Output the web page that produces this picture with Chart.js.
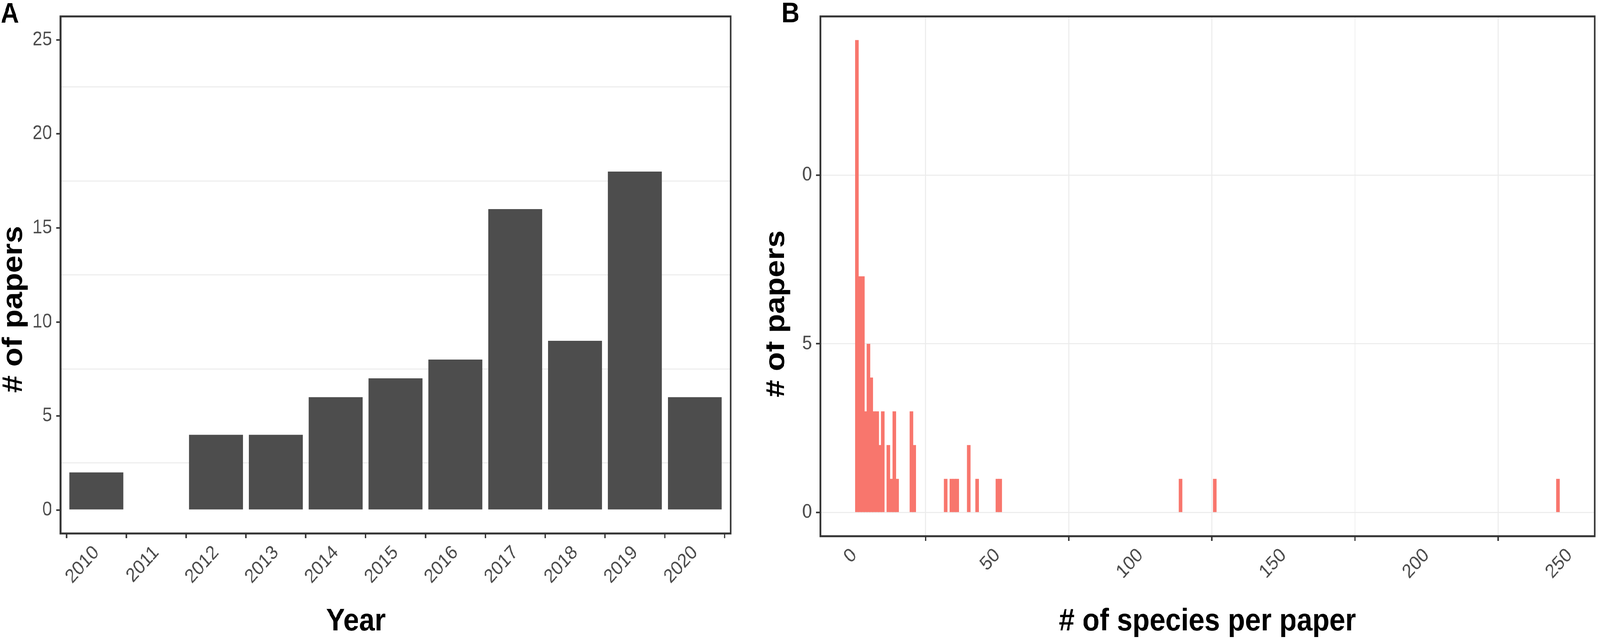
<!DOCTYPE html>
<html lang="en">
<head>
    <meta charset="UTF-8">
    <title>Papers per year / species per paper</title>
    <script src="https://cdn.jsdelivr.net/npm/chart.js"></script>
    <style>
        html, body {
            margin: 0;
            padding: 0;
            background: #ffffff;
            overflow: hidden;
        }
        #stage {
            position: absolute;
            left: 0;
            top: 0;
            width: 4550px;
            height: 1635px;
            transform-origin: 0 0;
        }
        canvas {
            position: absolute;
            top: 0;
        }
        #panelA { left: 0; }
        #panelB { left: 2180px; }
    </style>
</head>
<body>
    <div id="stage">
        <canvas id="panelA" width="2180" height="1635"></canvas>
        <canvas id="panelB" width="2370" height="1635"></canvas>
    </div>
    <script>
        // Panel A: number of papers per year
        const years = [2010, 2011, 2012, 2013, 2014, 2015, 2016, 2017, 2018, 2019, 2020];
        const papersPerYear = [2, 0, 4, 4, 6, 7, 8, 16, 9, 18, 6];
        const yTicksA = [0, 5, 10, 15, 20, 25];
        const yMinorA = [2.5, 7.5, 12.5, 17.5, 22.5];

        // Panel B: histogram of species per paper (bin width 1)
        const speciesPerPaper = [1, 2, 3, 4, 5, 6, 7, 8, 9, 10, 12, 13, 14, 15, 20, 21, 32, 34, 35, 36, 40, 43, 50, 51, 114, 126, 246];
        const papersPerBin = [14, 7, 7, 3, 5, 4, 3, 3, 2, 3, 2, 1, 3, 1, 3, 2, 1, 1, 1, 1, 2, 1, 1, 1, 1, 1, 1];
        const xTicksB = [0, 50, 100, 150, 200, 250];
        const yTicksB = [0, 5, 10];
        const yTickLabelsB = ['0', '5', '0']; // the "1" of 10 is cut off in the source figure

        // the window can be narrower than 4550px, so stretch the layout to fill it
        const sx = window.innerWidth / 4550;
        const sy = window.innerHeight / 1635;
        document.getElementById('stage').style.transform = 'scale(' + sx + ',' + sy + ')';

        const FONT = '"Liberation Sans", Arial, sans-serif';
        const tickFont = { family: FONT, size: 50 };
        const gridGrey = '#EBEBEB';
        const frameGrey = '#333333';

        // frame, axis titles and panel letter
        const panelText = {
            id: 'panelText',
            afterDraw(chart, args, o) {
                const ctx = chart.ctx;
                const a = chart.chartArea;
                ctx.save();
                ctx.strokeStyle = frameGrey;
                ctx.lineWidth = 5;
                ctx.strokeRect(a.left, a.top, a.right - a.left, a.bottom - a.top);

                ctx.fillStyle = '#000000';
                ctx.font = 'bold 80px ' + FONT;
                ctx.textAlign = 'center';
                ctx.textBaseline = 'alphabetic';
                ctx.fillText(o.xTitle, (a.left + a.right) / 2 + o.xShift, o.xBaseline);

                ctx.save();
                ctx.translate(o.yBaseline, (a.top + a.bottom) / 2 + o.yShift);
                ctx.rotate(-Math.PI / 2);
                ctx.fillText(o.yTitle, 0, 0);
                ctx.restore();

                ctx.font = 'bold 72px ' + FONT;
                ctx.textAlign = 'left';
                ctx.fillText(o.letter, o.letterX, o.letterY);
                ctx.restore();
            }
        };

        const setTicks = list => scale => { scale.ticks = list.map(v => ({ value: v })); };

        new Chart(document.getElementById('panelA'), {
            type: 'bar',
            data: {
                datasets: [{
                    data: years.map((y, i) => ({ x: y, y: papersPerYear[i] })),
                    backgroundColor: '#4D4D4D',
                    categoryPercentage: 0.9,
                    barPercentage: 1
                }]
            },
            options: {
                responsive: false,
                animation: false,
                devicePixelRatio: 1,
                layout: { padding: { left: 0, top: 14, right: 102, bottom: 0 } },
                plugins: {
                    legend: { display: false },
                    tooltip: { enabled: false },
                    panelText: {
                        letter: 'A', letterX: 2, letterY: 58,
                        xTitle: 'Year', xShift: -113, xBaseline: 1613,
                        yTitle: '# of papers', yBaseline: 62, yShift: 88
                    }
                },
                scales: {
                    x: {
                        type: 'linear',
                        min: 2009.4,
                        max: 2020.6,
                        bounds: 'data',
                        offset: false,
                        afterBuildTicks: setTicks(years),
                        afterFit: s => { s.height = 270; },
                        border: { display: false },
                        grid: { drawOnChartArea: false, tickLength: 12, tickWidth: 4, tickColor: frameGrey },
                        ticks: {
                            autoSkip: false,
                            minRotation: 45,
                            maxRotation: 45,
                            padding: 8,
                            color: '#4D4D4D',
                            font: tickFont,
                            callback: v => String(v)
                        }
                    },
                    y: {
                        min: -1.25,
                        max: 26.25,
                        bounds: 'data',
                        afterBuildTicks: setTicks(yTicksA.concat(yMinorA).sort((p, q) => p - q)),
                        afterFit: s => { s.width = 172; },
                        border: { display: false },
                        grid: {
                            lineWidth: 2.5,
                            color: c => yTicksA.includes(c.tick.value) ? 'rgba(0,0,0,0)' : gridGrey,
                            tickLength: 12,
                            tickWidth: 4,
                            tickColor: c => yTicksA.includes(c.tick.value) ? frameGrey : 'rgba(0,0,0,0)'
                        },
                        ticks: {
                            padding: 12,
                            color: '#4D4D4D',
                            font: tickFont,
                            callback: v => yTicksA.includes(v) ? String(v) : ''
                        }
                    }
                }
            },
            plugins: [panelText]
        });

        new Chart(document.getElementById('panelB'), {
            type: 'bar',
            data: {
                datasets: [{
                    data: speciesPerPaper.map((s, i) => ({ x: s, y: papersPerBin[i] })),
                    backgroundColor: '#F8766D',
                    categoryPercentage: 1,
                    barPercentage: 1.25
                }]
            },
            options: {
                responsive: false,
                animation: false,
                devicePixelRatio: 1,
                layout: { padding: { left: 0, top: 11, right: 15, bottom: 0 } },
                plugins: {
                    legend: { display: false },
                    tooltip: { enabled: false },
                    panelText: {
                        letter: 'B', letterX: 42, letterY: 57,
                        xTitle: '# of species per paper', xShift: 0, xBaseline: 1613,
                        yTitle: '# of papers', yBaseline: 50, yShift: 96
                    }
                },
                scales: {
                    x: {
                        type: 'linear',
                        min: -11.8,
                        max: 258.8,
                        bounds: 'data',
                        offset: false,
                        afterBuildTicks: setTicks(xTicksB),
                        afterFit: s => { s.height = 263; },
                        border: { display: false },
                        grid: { color: gridGrey, lineWidth: 2.5, tickLength: 12, tickWidth: 4, tickColor: frameGrey },
                        ticks: {
                            autoSkip: false,
                            minRotation: 45,
                            maxRotation: 45,
                            padding: 8,
                            color: '#4D4D4D',
                            font: tickFont,
                            callback: v => String(v)
                        }
                    },
                    y: {
                        min: -0.7,
                        max: 14.7,
                        bounds: 'data',
                        afterBuildTicks: setTicks(yTicksB),
                        afterFit: s => { s.width = 153; },
                        border: { display: false },
                        grid: { color: gridGrey, lineWidth: 2.5, tickLength: 12, tickWidth: 4, tickColor: frameGrey },
                        ticks: {
                            padding: 12,
                            color: '#4D4D4D',
                            font: tickFont,
                            callback: (v, i) => yTickLabelsB[i]
                        }
                    }
                }
            },
            plugins: [panelText]
        });
    </script>
</body>
</html>
